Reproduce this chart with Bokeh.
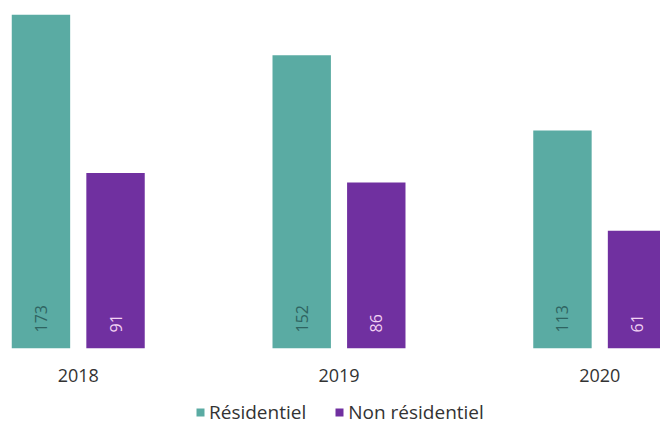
import math
from bokeh.plotting import figure
from bokeh.layouts import column
from bokeh.models import ColumnDataSource, Range1d, Legend, LegendItem, FixedTicker
from bokeh.core.properties import value
from bokeh.embed import file_html
from bokeh.resources import INLINE

years = ["2018", "2019", "2020"]
residentiel = [173, 152, 113]
non_residentiel = [91, 86, 61]
series_names = ["Résidentiel", "Non résidentiel"]

TEAL = "#5aaba3"
PURPLE = "#7030a0"
FONT = "Open Sans"

idx = list(range(len(years)))
off = 0.143
w = 0.224

src_r = ColumnDataSource(dict(x=[i - off for i in idx], top=residentiel,
                              lab=[str(v) for v in residentiel]))
src_n = ColumnDataSource(dict(x=[i + off for i in idx], top=non_residentiel,
                              lab=[str(v) for v in non_residentiel]))

p = figure(frame_width=652, frame_height=340, output_backend="svg", toolbar_location=None,
           x_range=Range1d(-0.2675, 2.233), y_range=Range1d(0, 176.2),
           min_border_left=8, min_border_right=0, min_border_top=8, min_border_bottom=50)
p.outline_line_color = None
p.grid.visible = False
p.yaxis.visible = False

p.vbar(x="x", top="top", width=w, source=src_r, fill_color=TEAL, line_color=None)
p.vbar(x="x", top="top", width=w, source=src_n, fill_color=PURPLE, line_color=None)

p.text(x="x", y=0, text="lab", source=src_r, angle=math.pi / 2, text_align="left",
       text_baseline="middle", y_offset=-16, text_font=value(FONT),
       text_font_size="16px", text_color="#2f6461")
p.text(x="x", y=0, text="lab", source=src_n, angle=math.pi / 2, text_align="left",
       text_baseline="middle", y_offset=-16, text_font=value(FONT),
       text_font_size="16px", text_color="#f3d3f3")

xa = p.xaxis[0]
xa.ticker = FixedTicker(ticks=idx)
xa.major_label_overrides = {i: y for i, y in zip(idx, years)}
xa.axis_line_color = None
xa.major_tick_line_color = None
xa.minor_tick_line_color = None
xa.major_label_text_font = FONT
xa.major_label_text_font_size = "18px"
xa.major_label_text_color = "#333333"
xa.major_label_standoff = 14

# legend strip
lg = figure(width=660, height=30, output_backend="svg", toolbar_location=None,
            x_range=Range1d(0, 1), y_range=Range1d(0, 1),
            min_border_left=0, min_border_right=0, min_border_top=0, min_border_bottom=0)
lg.outline_line_color = None
lg.grid.visible = False
lg.axis.visible = False
d1 = lg.vbar(x=[0.5], bottom=[0.5], top=[0.5], width=0, fill_color=TEAL, line_color=None)
d2 = lg.vbar(x=[0.5], bottom=[0.5], top=[0.5], width=0, fill_color=PURPLE, line_color=None)
legend = Legend(items=[LegendItem(label=series_names[0], renderers=[d1]),
                       LegendItem(label=series_names[1], renderers=[d2])],
                orientation="horizontal", location=(187, 3),
                glyph_width=10, glyph_height=10, label_standoff=4, spacing=28,
                label_text_font=FONT, label_text_font_size="19px",
                label_text_color="#333333", border_line_color=None,
                background_fill_alpha=0, padding=0, margin=0)
lg.add_layout(legend, "center")

layout = column(p, lg, spacing=0)
open("out.html", "w").write(file_html(layout, INLINE))
